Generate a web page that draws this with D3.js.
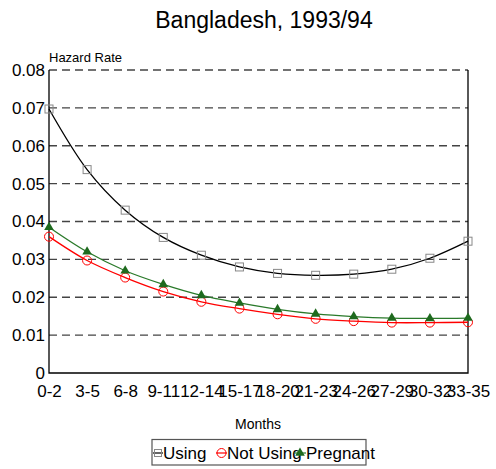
<!DOCTYPE html>
<html><head><meta charset="utf-8">
<script src="https://cdn.jsdelivr.net/npm/d3@7"></script>
<style>body{margin:0;background:#fff}svg{display:block}text{font-family:"Liberation Sans",Arial,sans-serif}</style>
</head><body><svg id="c" width="496" height="469"></svg>
<script>
const categories = ["0-2","3-5","6-8","9-11","12-14","15-17","18-20","21-23","24-26","27-29","30-32","33-35"];
const usingVals = [0.0697,0.0537,0.0430,0.0358,0.0311,0.0280,0.0263,0.0258,0.0261,0.0274,0.0303,0.0348];
const notUsingVals = [0.0360,0.0297,0.0252,0.0215,0.0188,0.0170,0.0155,0.0143,0.0137,0.0133,0.0133,0.0134];
const pregnantVals = [0.0385,0.0320,0.0270,0.0234,0.0205,0.0185,0.0168,0.0156,0.0149,0.0145,0.0144,0.0145];
const yTicks = [0,0.01,0.02,0.03,0.04,0.05,0.06,0.07,0.08];
const seriesNames = ["Using","Not Using","Pregnant"];

const svg = d3.select("#c");
const L=49, R=468, T=70, B=373;
const x = d3.scalePoint().domain(categories).range([L,R]);
const y = d3.scaleLinear().domain([0,0.08]).range([B,T]);

// grid
svg.append("g").selectAll("line").data(yTicks.filter(d=>d>0)).join("line")
  .attr("x1",L).attr("x2",R).attr("y1",d=>y(d)).attr("y2",d=>y(d))
  .attr("stroke","#444").attr("stroke-width",1.3).attr("stroke-dasharray","8,5");

// frame
svg.append("path").attr("d",`M${L},${T}V${B}H${R}V${T}`).attr("fill","none").attr("stroke","#000").attr("stroke-width",1.3);

// y axis labels
const yAxis = d3.axisLeft(y).tickValues(yTicks).tickSize(0).tickPadding(4).tickFormat(d=>d===0?"0":d3.format(".2f")(d));
const ga = svg.append("g").attr("transform",`translate(${L},0)`).call(yAxis);
ga.select(".domain").remove();
ga.selectAll("text").attr("font-size",17).attr("fill","#000").attr("font-family","Liberation Sans, Arial, sans-serif");

// x axis labels
const xAxis = d3.axisBottom(x).tickSize(0).tickPadding(12);
const gx = svg.append("g").attr("transform",`translate(0,${B})`).call(xAxis);
gx.select(".domain").remove();
gx.selectAll("text").attr("font-size",17).attr("fill","#000").attr("font-family","Liberation Sans, Arial, sans-serif");

// titles
svg.append("text").attr("x",264).attr("y",28).attr("text-anchor","middle").attr("font-size",23).text("Bangladesh, 1993/94");
svg.append("text").attr("x",49).attr("y",62).attr("font-size",13).attr("font-family","Liberation Sans Narrow, Liberation Sans, sans-serif").text("Hazard Rate");
svg.append("text").attr("x",258).attr("y",429).attr("text-anchor","middle").attr("font-size",14).attr("font-family","Liberation Sans Narrow, Liberation Sans, sans-serif").text("Months");

const series = [
  {name:seriesNames[0], vals:usingVals, line:"#000", mark:"square", mc:"#888"},
  {name:seriesNames[1], vals:notUsingVals, line:"#f00", mark:"circle", mc:"#f00"},
  {name:seriesNames[2], vals:pregnantVals, line:"#2a7a2a", mark:"triangle", mc:"#1e6a1e"}
];
const line = d3.line().x((d,i)=>x(categories[i])).y(d=>y(d)).curve(d3.curveCatmullRom.alpha(0.5));

function drawMarker(g, s, cx, cy){
  if(s.mark==="square") g.append("rect").attr("x",cx-4).attr("y",cy-4).attr("width",8).attr("height",8).attr("fill","none").attr("stroke",s.mc).attr("stroke-width",1);
  else if(s.mark==="circle") g.append("circle").attr("cx",cx).attr("cy",cy).attr("r",4.5).attr("fill","none").attr("stroke",s.mc).attr("stroke-width",1);
  else g.append("path").attr("d",d3.symbol(d3.symbolTriangle,40)()).attr("transform",`translate(${cx},${cy})`).attr("fill",s.mc);
}

series.forEach(s=>{
  svg.append("path").datum(s.vals).attr("d",line).attr("fill","none").attr("stroke",s.line).attr("stroke-width",1.3);
  const g = svg.append("g");
  s.vals.forEach((v,i)=>drawMarker(g,s,x(categories[i]),y(v)));
});

// legend
svg.append("rect").attr("x",152).attr("y",439.5).attr("width",214).attr("height",25.5).attr("fill","none").attr("stroke","#555").attr("stroke-width",1.2);
const legX = [[153,163],[216,227],[294,306]];
series.forEach((s,i)=>{
  const g = svg.append("g");
  const [lx, tx] = legX[i];
  g.append("line").attr("x1",lx).attr("x2",tx).attr("y1",453).attr("y2",453).attr("stroke",s.line).attr("stroke-width",1.2);
  const cx=(lx+tx)/2;
  if(s.mark==="square") g.append("rect").attr("x",cx-3.5).attr("y",449.5).attr("width",7).attr("height",7).attr("fill","none").attr("stroke",s.mc);
  else drawMarker(g,s,cx,453);
  g.append("text").attr("x",tx).attr("y",459).attr("font-size",17).text(s.name);
});
</script></body></html>
